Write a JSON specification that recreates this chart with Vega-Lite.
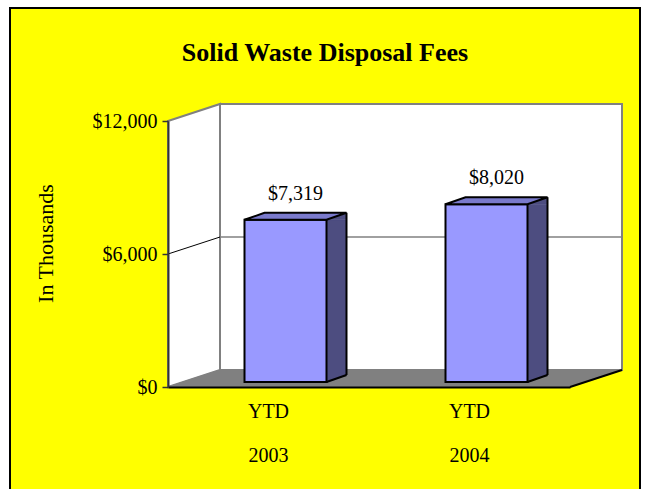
{
  "$schema": "https://vega.github.io/schema/vega-lite/v6.json",
  "width": 630,
  "height": 485,
  "autosize": "none",
  "padding": {"left": 10, "top": 8, "right": 5, "bottom": 0},
  "background": "white",
  "config": {
    "view": {"fill": "#ffff00", "stroke": "#000000", "strokeWidth": 2},
    "font": "Liberation Serif"
  },
  "title": {
    "text": "Solid Waste Disposal Fees",
    "font": "Liberation Serif",
    "fontSize": 26,
    "fontWeight": "bold",
    "color": "#000000",
    "anchor": "middle",
    "frame": "group",
    "orient": "top",
    "offset": -79,
    "baseline": "alphabetic"
  },
  "resolve": {"scale": {"x": "independent"}, "axis": {"x": "independent"}},
  "layer": [
    {
      "data": {"values": [{}]},
      "encoding": {
        "x": {"datum": 0, "type": "quantitative", "scale": {"domain": [0, 1], "range": [158, 560], "zero": false, "nice": false}, "axis": null}
      },
      "layer": [
        {
          "mark": {"type": "point", "shape": "M0,0 L0,-266 L52,-283 L52,-17 Z", "size": 4, "filled": true, "fill": "#ffffff", "stroke": "#808080", "strokeWidth": 2, "opacity": 1},
          "encoding": {
            "y": {
              "datum": 0, "type": "quantitative", "title": "In Thousands",
              "scale": {"domain": [0, 12000], "range": [379, 113], "nice": false, "zero": true},
              "axis": {
                "orient": "left", "offset": -158, "values": [0, 6000, 12000], "format": "$,.0f",
                "grid": false, "zindex": 1,
                "domainColor": "#333333", "domainWidth": 2,
                "tickColor": "#333333", "tickWidth": 1.5, "tickSize": 6,
                "labelFont": "Liberation Serif", "labelFontSize": 20, "labelColor": "#000000", "labelPadding": 5,
                "title": "In Thousands", "titleFont": "Liberation Serif", "titleFontSize": 22, "titleFontWeight": "normal",
                "titleColor": "#000000", "titleAngle": -90, "titleX": -116, "titleY": 235, "titleAlign": "center", "titleBaseline": "alphabetic"
              }
            }
          }
        },
        {
          "mark": {"type": "point", "shape": "M52,-17 L52,-283 L454,-283 L454,-17 Z", "size": 4, "filled": true, "fill": "#ffffff", "stroke": "#808080", "strokeWidth": 2, "opacity": 1},
          "encoding": {"y": {"datum": 0, "type": "quantitative", "title": "In Thousands"}}
        },
        {
          "mark": {"type": "point", "shape": "M0,0 L52,-17", "size": 4, "filled": false, "stroke": "#000000", "strokeWidth": 1, "opacity": 1},
          "encoding": {"y": {"datum": 6000, "type": "quantitative", "title": "In Thousands"}}
        },
        {
          "mark": {"type": "point", "shape": "M52,-17 L454,-17", "size": 4, "filled": false, "stroke": "#808080", "strokeWidth": 1.5, "opacity": 1},
          "encoding": {"y": {"datum": 6000, "type": "quantitative", "title": "In Thousands"}}
        },
        {
          "mark": {"type": "point", "shape": "M0,0 L402,0 L454,-17 L52,-17 Z", "size": 4, "filled": true, "fill": "#808080", "stroke": "#808080", "strokeWidth": 1, "opacity": 1},
          "encoding": {"y": {"datum": 0, "type": "quantitative", "title": "In Thousands"}}
        },
        {
          "mark": {"type": "point", "shape": "M402,0 L454,-17", "size": 4, "filled": false, "stroke": "#000000", "strokeWidth": 2, "opacity": 1},
          "encoding": {"y": {"datum": 0, "type": "quantitative", "title": "In Thousands"}}
        }
      ]
    },
    {
      "data": {"values": [
        {"period": "YTD 2003", "fees": 7319},
        {"period": "YTD 2004", "fees": 8020}
      ]},
      "encoding": {
        "x": {
          "field": "period", "type": "nominal", "sort": null,
          "scale": {"range": [158, 560], "paddingInner": 0, "paddingOuter": 0},
          "axis": {
            "orient": "bottom", "offset": -106, "title": null, "ticks": false, "grid": false,
            "domain": true, "domainColor": "#000000", "domainWidth": 2, "zindex": 1,
            "labelExpr": "split(datum.label, ' ')", "labelAngle": 0,
            "labelFont": "Liberation Serif", "labelFontSize": 20, "labelColor": "#000000",
            "labelLineHeight": 44, "labelBaseline": "top", "labelPadding": 14
          }
        }
      },
      "layer": [
        {
          "mark": {"type": "bar", "width": 20, "xOffset": 68, "yOffset": -5, "y2Offset": -12, "fill": "#4d4d80", "stroke": "#4d4d80", "strokeWidth": 0.5},
          "encoding": {
            "y": {"field": "fees", "type": "quantitative", "title": "In Thousands"},
            "y2": {"datum": 0}
          }
        },
        {
          "mark": {"type": "point", "shape": "M58,0 L78,-7 L78,0 Z", "size": 4, "filled": true, "fill": "#4d4d80", "stroke": "#4d4d80", "strokeWidth": 0.5, "opacity": 1, "yOffset": -5},
          "encoding": {"y": {"field": "fees", "type": "quantitative", "title": "In Thousands"}}
        },
        {
          "mark": {"type": "point", "shape": "M58,-7 L58,0 L78,-7 Z", "size": 4, "filled": true, "fill": "#4d4d80", "stroke": "#4d4d80", "strokeWidth": 0.5, "opacity": 1, "yOffset": -5},
          "encoding": {"y": {"datum": 0, "type": "quantitative", "title": "In Thousands"}}
        },
        {
          "mark": {"type": "bar", "width": 82, "xOffset": 17, "yOffset": -5, "y2Offset": -5, "fill": "#9999ff", "stroke": "#000000", "strokeWidth": 2},
          "encoding": {
            "y": {"field": "fees", "type": "quantitative", "title": "In Thousands"},
            "y2": {"datum": 0}
          }
        },
        {
          "mark": {"type": "point", "shape": "M-24,0 L58,0 L78,-7 L-4,-7 Z", "size": 4, "filled": true, "fill": "#7a7acc", "stroke": "#000000", "strokeWidth": 2, "opacity": 1, "yOffset": -5},
          "encoding": {"y": {"field": "fees", "type": "quantitative", "title": "In Thousands"}}
        },
        {
          "mark": {"type": "rule", "xOffset": 78, "yOffset": -12, "y2Offset": -12, "stroke": "#000000", "strokeWidth": 2},
          "encoding": {
            "y": {"field": "fees", "type": "quantitative", "title": "In Thousands"},
            "y2": {"datum": 0}
          }
        },
        {
          "mark": {"type": "point", "shape": "M58,0 L78,-7", "size": 4, "filled": false, "stroke": "#000000", "strokeWidth": 2, "opacity": 1, "yOffset": -5},
          "encoding": {"y": {"datum": 0, "type": "quantitative", "title": "In Thousands"}}
        },
        {
          "mark": {"type": "text", "font": "Liberation Serif", "fontSize": 20, "color": "#000000", "dx": 27, "dy": -25, "baseline": "alphabetic", "align": "center"},
          "encoding": {
            "y": {"field": "fees", "type": "quantitative", "title": "In Thousands"},
            "text": {"field": "fees", "type": "quantitative", "format": "$,.0f"}
          }
        }
      ]
    }
  ]
}
